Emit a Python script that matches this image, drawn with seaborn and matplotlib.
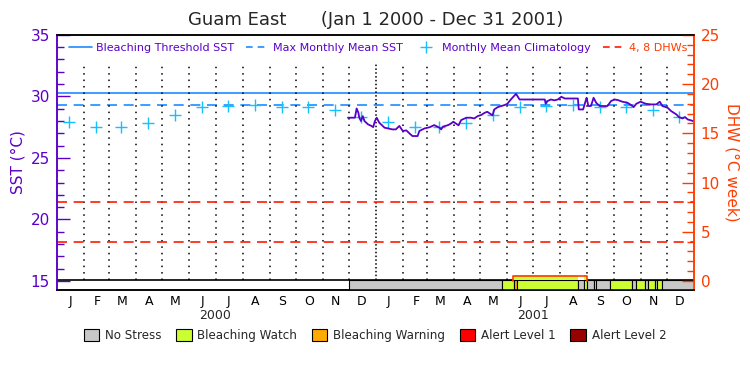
import pandas as pd
import matplotlib
matplotlib.use('Agg')
import matplotlib.pyplot as plt
from matplotlib.lines import Line2D
from matplotlib.patches import Patch
import seaborn as sns

# Datos de SST (°C)
sst_dates = ['2000-11-30', '2000-12-08', '2000-12-10', '2000-12-12', '2000-12-13', '2000-12-15',
             '2000-12-17', '2000-12-19', '2000-12-23', '2000-12-27', '2000-12-29', '2000-12-31',
             '2001-01-02', '2001-01-05', '2001-01-07', '2001-01-11', '2001-01-15', '2001-01-20',
             '2001-01-24', '2001-01-28', '2001-02-01', '2001-02-05', '2001-02-09', '2001-02-12',
             '2001-02-18', '2001-02-20', '2001-02-26', '2001-03-04', '2001-03-09', '2001-03-15',
             '2001-03-17', '2001-03-19', '2001-03-25', '2001-03-28', '2001-03-31', '2001-04-06',
             '2001-04-09', '2001-04-15', '2001-04-20', '2001-04-24', '2001-04-28', '2001-05-02',
             '2001-05-06', '2001-05-09', '2001-05-15', '2001-05-17', '2001-05-21', '2001-05-25',
             '2001-05-29', '2001-06-01', '2001-06-05', '2001-06-11', '2001-06-15', '2001-07-14',
             '2001-07-15', '2001-07-17', '2001-07-21', '2001-07-25', '2001-07-29', '2001-08-02',
             '2001-08-06', '2001-08-21', '2001-08-22', '2001-08-27', '2001-08-30', '2001-08-31',
             '2001-09-02', '2001-09-05', '2001-09-08', '2001-09-11', '2001-09-15', '2001-09-24',
             '2001-09-28', '2001-10-02', '2001-10-06', '2001-10-11', '2001-10-17', '2001-10-21',
             '2001-10-24', '2001-10-27', '2001-11-01', '2001-11-07', '2001-11-13', '2001-11-19',
             '2001-11-23', '2001-11-26', '2001-12-02', '2001-12-06', '2001-12-12', '2001-12-15',
             '2001-12-19', '2001-12-22', '2001-12-25', '2001-12-29', '2001-12-31']
sst_values = [28.27, 28.27, 29.02, 28.67, 28.27, 28.0, 28.4, 28.0, 27.73, 27.6, 27.5, 28.0,
              28.27, 27.86, 27.73, 27.46, 27.4, 27.32, 27.32, 27.6, 27.19, 27.24, 26.97, 26.78,
              26.78, 27.19, 27.4, 27.5, 27.67, 27.46, 27.32, 27.54, 27.67, 27.78, 27.94, 27.65,
              28.08, 28.27, 28.27, 28.21, 28.4, 28.49, 28.67, 28.75, 28.46, 28.94, 29.13, 29.22,
              29.3, 29.4, 29.75, 30.21, 29.75, 29.75, 29.4, 29.62, 29.75, 29.68, 29.75, 29.97,
              29.83, 29.83, 28.94, 28.94, 29.67, 29.89, 29.22, 29.22, 29.89, 29.48, 29.22, 29.22,
              29.62, 29.75, 29.7, 29.57, 29.48, 29.3, 29.13, 29.4, 29.57, 29.4, 29.35, 29.35,
              29.57, 29.22, 29.08, 28.81, 28.54, 28.32, 28.21, 28.32, 28.13, 28.05, 28.0]

# Climatología mensual (se repite en los dos años)
clim_values = [27.95, 27.5, 27.5, 27.85, 28.45, 29.1, 29.25, 29.3, 29.1, 29.1, 28.9, 28.35]
mmm_sst = 29.32
threshold_sst = 30.3
dhw_levels = [4, 8]

# Estado de estrés térmico (franja inferior)
stress_start = ['2000-12-01', '2001-05-26', '2001-06-09', '2001-06-12', '2001-08-21', '2001-08-28',
                '2001-09-01', '2001-09-08', '2001-09-11', '2001-09-27', '2001-10-22', '2001-10-27',
                '2001-11-06', '2001-11-09', '2001-11-17', '2001-11-20', '2001-11-25']
stress_end = ['2001-05-26', '2001-06-09', '2001-06-12', '2001-08-21', '2001-08-28', '2001-09-01',
              '2001-09-08', '2001-09-11', '2001-09-27', '2001-10-22', '2001-10-27', '2001-11-06',
              '2001-11-09', '2001-11-17', '2001-11-20', '2001-11-25', '2002-01-01']
stress_level = ['No Stress', 'Bleaching Watch', 'Bleaching Warning', 'Bleaching Watch', 'No Stress',
                'Bleaching Watch', 'No Stress', 'Bleaching Watch', 'No Stress', 'Bleaching Watch',
                'No Stress', 'Bleaching Watch', 'No Stress', 'Bleaching Watch', 'No Stress',
                'Bleaching Watch', 'No Stress']

# DHW (°C week): contorno y relleno de la barra
dhw_dates = ['2001-06-08', '2001-06-08', '2001-09-01', '2001-09-01']
dhw_values = [0.0, 0.55, 0.55, 0.0]
dhw_fill_start = ['2001-06-08', '2001-08-21', '2001-08-28']
dhw_fill_end = ['2001-08-21', '2001-08-28', '2001-09-01']
dhw_fill_level = ['Bleaching Watch', 'No Stress', 'Bleaching Watch']

month_letters = ['J', 'F', 'M', 'A', 'M', 'J', 'J', 'A', 'S', 'O', 'N', 'D']
years = [2000, 2001]

# Colores
purple = '#5a00c8'
orange = '#ff3c00'
level_colors = {'No Stress': '#c8c8c8', 'Bleaching Watch': '#ccff33',
                'Bleaching Warning': '#ffaa00', 'Alert Level 1': '#ff0000',
                'Alert Level 2': '#990000'}

sns.set_style('white')
plt.rcParams['font.family'] = ['DejaVu Sans']

fig, ax = plt.subplots(figsize=(7.5, 3.75), dpi=100)
fig.subplots_adjust(left=0.076, right=0.925, top=0.907, bottom=0.227)
ax2 = ax.twinx()

y_low, y_high = 14.28, 35.0
ax.set_ylim(y_low, y_high)
ax2.set_ylim((y_low - 15) * 1.25, (y_high - 15) * 1.25)
x0, x1 = pd.Timestamp('2000-01-01'), pd.Timestamp('2002-01-01')
ax.set_xlim(x0, x1)

# Líneas de umbral
ax.axhline(threshold_sst, color='#1e8cff', lw=1.2)
ax.axhline(mmm_sst, color='#1e8cff', lw=1.2, ls=(0, (6, 4)))
for lvl in dhw_levels:
    ax2.axhline(lvl, color='#ff1a00', lw=1.2, ls=(0, (6, 4)))

# Líneas verticales punteadas de los meses
month_starts = pd.date_range('2000-02-01', '2001-12-01', freq='MS')
for d in month_starts:
    dots = (0, (1, 1.5)) if d == pd.Timestamp('2001-01-01') else (0, (1, 3.2))
    ax.vlines(d, 15.05, 32.75, colors='black', linestyles=[dots], lw=1.1)

# Climatología mensual
clim_df = pd.DataFrame({
    'fecha': pd.date_range('2000-01-01', '2001-12-01', freq='MS') + pd.Timedelta(days=14),
    'sst': clim_values * 2,
})
sns.scatterplot(data=clim_df, x='fecha', y='sst', marker='+', s=80, color='#14c0ff',
                linewidth=1.0, ax=ax, zorder=4)

# SST diaria
sst_df = pd.DataFrame({'fecha': pd.to_datetime(sst_dates), 'sst': sst_values})
sns.lineplot(data=sst_df, x='fecha', y='sst', color=purple, lw=1.3, ax=ax,
             estimator=None, sort=False, zorder=5)

# Franja de estrés
for s, e, lev in zip(stress_start, stress_end, stress_level):
    s, e = pd.Timestamp(s), pd.Timestamp(e)
    ax.bar(s, 15.05 - y_low, width=e - s, bottom=y_low, align='edge',
           color=level_colors[lev], edgecolor='black', lw=0.8, zorder=3)
ax.axhline(15.05, color='black', lw=1.2, zorder=3)

# Barra de DHW
dhw_fill_colors = {'No Stress': 'white', 'Bleaching Watch': level_colors['Bleaching Watch']}
for s, e, lev in zip(dhw_fill_start, dhw_fill_end, dhw_fill_level):
    s, e = pd.Timestamp(s), pd.Timestamp(e)
    ax2.bar(s, max(dhw_values), width=e - s, bottom=0.06, align='edge',
            color=dhw_fill_colors[lev], lw=0, zorder=2)
ax2.plot(pd.to_datetime(dhw_dates), dhw_values, color=orange, lw=1.2, zorder=3)

# Eje izquierdo
ax.set_yticks([15, 20, 25, 30, 35])
ax.set_yticks(range(15, 36), minor=True)
ax.tick_params(axis='y', which='major', direction='in', left=True, length=9, width=1,
               colors=purple, labelsize=11, pad=5)
ax.tick_params(axis='y', which='minor', direction='in', left=True, length=5, width=1,
               colors=purple)
ax.set_ylabel('SST (°C)', color=purple, fontsize=11, labelpad=4)

# Eje derecho
ax2.set_yticks([0, 5, 10, 15, 20, 25])
ax2.set_yticks(range(0, 26), minor=True)
ax2.tick_params(axis='y', which='major', direction='in', right=True, length=9, width=1,
                colors=orange, labelsize=11, pad=5)
ax2.tick_params(axis='y', which='minor', direction='in', right=True, length=5, width=1,
                colors=orange)
ax2.set_ylabel('DHW (°C week)', color=orange, fontsize=11, rotation=270, labelpad=14)

# Bordes
for a in (ax, ax2):
    a.spines['left'].set_color(purple)
    a.spines['right'].set_color(orange)
    a.spines['top'].set_color('black')
    a.spines['bottom'].set_color('black')
    for sp in a.spines.values():
        sp.set_linewidth(1.1)

# Eje x: letras de los meses y años
mid_months = pd.date_range('2000-01-01', '2001-12-01', freq='MS') + pd.Timedelta(days=15)
ax.set_xticks(mid_months)
ax.set_xticklabels(month_letters * 2)
ax.tick_params(axis='x', length=0, labelsize=9, pad=4, colors='black')
ax.set_xlabel('')
for yr in years:
    ax.text(pd.Timestamp(f'{yr}-07-01'), -0.1, str(yr), transform=ax.get_xaxis_transform(),
            ha='center', va='center', fontsize=9)

# Título
ax.set_title('Guam East      (Jan 1 2000 - Dec 31 2001)', fontsize=13, pad=7)

# Leyenda superior
top_handles = [
    Line2D([], [], color='#1e8cff', lw=1.2),
    Line2D([], [], color='#1e8cff', lw=1.2, ls=(0, (4, 3))),
    Line2D([], [], color='#14c0ff', lw=0, marker='+', markersize=8, markeredgewidth=1.0),
    Line2D([], [], color='#ff1a00', lw=1.2, ls=(0, (4, 3))),
]
top_labels = ['Bleaching Threshold SST', 'Max Monthly Mean SST',
              'Monthly Mean Climatology', '4, 8 DHWs']
ax2.legend(top_handles, top_labels, loc='upper center', bbox_to_anchor=(0.505, 1.0), ncol=4,
           frameon=False, fontsize=8.0, handlelength=2.0, handletextpad=0.4,
           columnspacing=1.1, labelcolor=[purple, purple, purple, orange], borderaxespad=0.3)

# Leyenda inferior
bottom_handles = [Patch(facecolor=c, edgecolor='black', lw=0.8) for c in level_colors.values()]
fig.legend(bottom_handles, list(level_colors.keys()), loc='center', bbox_to_anchor=(0.5, 0.105),
           ncol=5, frameon=False, fontsize=8.6, handlelength=1.3, handleheight=1.1,
           handletextpad=0.5, columnspacing=1.2)

plt.savefig('out.png', dpi=100)
